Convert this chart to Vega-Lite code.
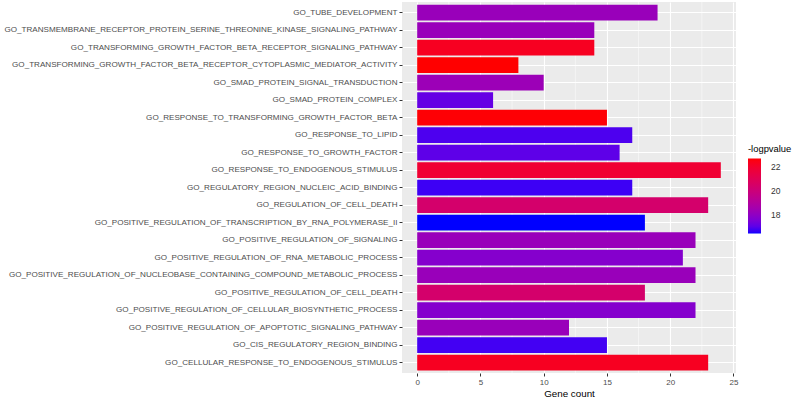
{
  "$schema": "https://vega.github.io/schema/vega-lite/v6.json",
  "width": 334,
  "height": 371,
  "autosize": {"type": "none"},
  "padding": {"left": 402, "top": 2, "right": 58, "bottom": 27},
  "background": "white",
  "config": {"view": {"fill": "#EBEBEB", "stroke": null}, "font": "Liberation Sans"},
  "layer": [
    {
      "data": {"values": [{"g": 2.5}, {"g": 7.5}, {"g": 12.5}, {"g": 17.5}, {"g": 22.5}]},
      "mark": {"type": "rule", "color": "white", "strokeWidth": 0.5},
      "encoding": {
        "x": {"field": "g", "type": "quantitative", "scale": {"domain": [-1.2, 25.2], "nice": false, "zero": false}}
      }
    },
    {
      "data": {"values": [
        {"term": "GO_TUBE_DEVELOPMENT", "count": 19, "logp": 18.2},
        {"term": "GO_TRANSMEMBRANE_RECEPTOR_PROTEIN_SERINE_THREONINE_KINASE_SIGNALING_PATHWAY", "count": 14, "logp": 18.2},
        {"term": "GO_TRANSFORMING_GROWTH_FACTOR_BETA_RECEPTOR_SIGNALING_PATHWAY", "count": 14, "logp": 22.3},
        {"term": "GO_TRANSFORMING_GROWTH_FACTOR_BETA_RECEPTOR_CYTOPLASMIC_MEDIATOR_ACTIVITY", "count": 8, "logp": 22.75},
        {"term": "GO_SMAD_PROTEIN_SIGNAL_TRANSDUCTION", "count": 10, "logp": 18.3},
        {"term": "GO_SMAD_PROTEIN_COMPLEX", "count": 6, "logp": 17.1},
        {"term": "GO_RESPONSE_TO_TRANSFORMING_GROWTH_FACTOR_BETA", "count": 15, "logp": 22.7},
        {"term": "GO_RESPONSE_TO_LIPID", "count": 17, "logp": 16.8},
        {"term": "GO_RESPONSE_TO_GROWTH_FACTOR", "count": 16, "logp": 17.0},
        {"term": "GO_RESPONSE_TO_ENDOGENOUS_STIMULUS", "count": 24, "logp": 21.9},
        {"term": "GO_REGULATORY_REGION_NUCLEIC_ACID_BINDING", "count": 17, "logp": 16.65},
        {"term": "GO_REGULATION_OF_CELL_DEATH", "count": 23, "logp": 20.4},
        {"term": "GO_POSITIVE_REGULATION_OF_TRANSCRIPTION_BY_RNA_POLYMERASE_II", "count": 18, "logp": 16.4},
        {"term": "GO_POSITIVE_REGULATION_OF_SIGNALING", "count": 22, "logp": 18.2},
        {"term": "GO_POSITIVE_REGULATION_OF_RNA_METABOLIC_PROCESS", "count": 21, "logp": 17.7},
        {"term": "GO_POSITIVE_REGULATION_OF_NUCLEOBASE_CONTAINING_COMPOUND_METABOLIC_PROCESS", "count": 22, "logp": 18.2},
        {"term": "GO_POSITIVE_REGULATION_OF_CELLULAR_BIOSYNTHETIC_PROCESS", "count": 22, "logp": 17.7},
        {"term": "GO_POSITIVE_REGULATION_OF_CELL_DEATH", "count": 18, "logp": 20.4},
        {"term": "GO_POSITIVE_REGULATION_OF_APOPTOTIC_SIGNALING_PATHWAY", "count": 12, "logp": 18.2},
        {"term": "GO_CIS_REGULATORY_REGION_BINDING", "count": 15, "logp": 16.7},
        {"term": "GO_CELLULAR_RESPONSE_TO_ENDOGENOUS_STIMULUS", "count": 23, "logp": 22.3}
      ]},
      "mark": {"type": "bar"},
      "encoding": {
        "y": {
          "field": "term", "type": "nominal", "sort": "descending",
          "scale": {"paddingInner": 0.1, "paddingOuter": 0.15},
          "axis": {"title": null, "grid": true, "gridColor": "white", "gridWidth": 1.1, "bandPosition": 0.5,
                   "labelFontSize": 8.1, "labelColor": "#4D4D4D", "tickColor": "#333333", "tickSize": 3,
                   "labelPadding": 2, "domain": false, "labelLimit": 0}
        },
        "x": {
          "field": "count", "type": "quantitative",
          "scale": {"domain": [-1.2, 25.2], "nice": false, "zero": false},
          "axis": {"values": [0, 5, 10, 15, 20, 25], "title": "Gene count", "grid": true, "gridColor": "white",
                   "gridWidth": 1.1, "domain": false, "tickColor": "#333333", "tickSize": 3, "labelFontSize": 8,
                   "labelColor": "#4D4D4D", "titleFontSize": 9.8, "titleFontWeight": "normal", "titleColor": "black",
                   "labelPadding": 2, "titlePadding": 2}
        },
        "x2": {"datum": 0},
        "color": {
          "field": "logp", "type": "quantitative",
          "scale": {"range": ["#0000FF", "#FF0000"], "interpolate": "lab", "zero": false, "nice": false},
          "legend": {"title": "-logpvalue", "orient": "none", "legendX": 346, "legendY": 143,
                     "gradientLength": 75, "gradientThickness": 13, "titleFontSize": 9.4, "titleFontWeight": "normal",
                     "titleColor": "black", "labelFontSize": 8.5, "labelColor": "#333333", "values": [18, 20, 22],
                     "gradientStrokeWidth": 0, "titlePadding": 4, "labelOffset": 10}
        }
      }
    }
  ]
}
